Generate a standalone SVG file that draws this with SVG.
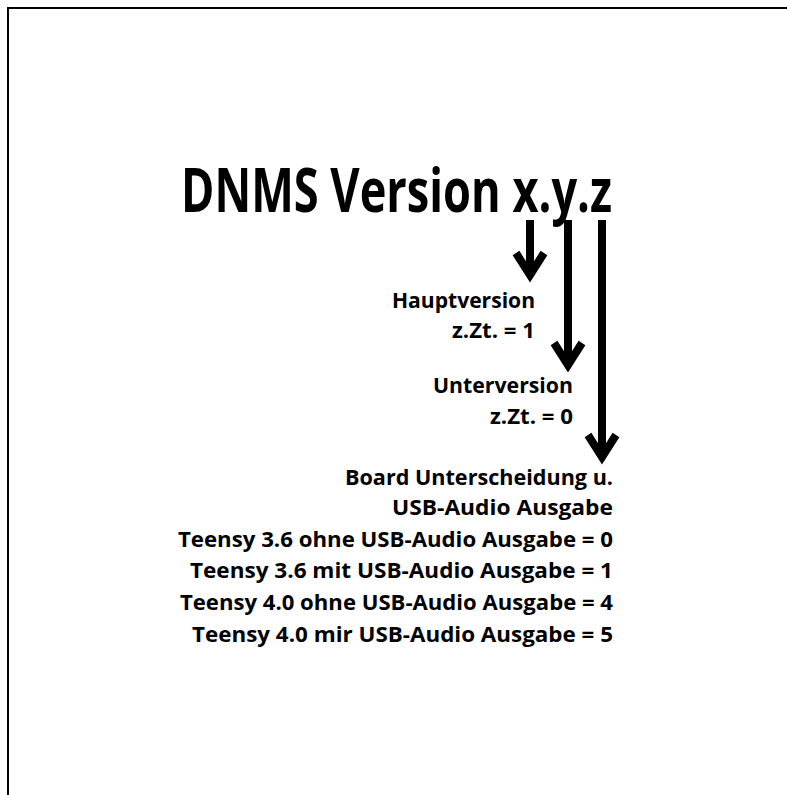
<svg xmlns="http://www.w3.org/2000/svg" width="787" height="795" viewBox="0 0 787 795">
<style>
text{font-family:"Open Sans","Noto Sans","Liberation Sans",sans-serif;font-weight:bold;fill:#000;text-anchor:end}
.t{font-size:60px}
.s{font-size:21px}
.arr{stroke:#000;stroke-width:8;fill:none}
.head{stroke:#000;stroke-width:8;fill:none;stroke-linecap:butt;stroke-linejoin:miter}
</style>
<rect x="0" y="0" width="787" height="795" fill="#fff"/>
<rect x="8" y="8" width="800" height="800" fill="none" stroke="#000" stroke-width="2"/>
<g id="title"><text class="t" x="612" y="212" textLength="431" lengthAdjust="spacingAndGlyphs">DNMS Version x.y.z</text></g>
<g id="connectors">
<line class="arr" x1="530" y1="220" x2="530" y2="276"/>
<polyline class="head" points="516,253 530,275 544,253"/>
<line class="arr" x1="568" y1="220" x2="568" y2="366"/>
<polyline class="head" points="554,343 568,365 582,343"/>
<line class="arr" x1="602" y1="220" x2="602" y2="458"/>
<polyline class="head" points="588,435 602,457 616,435"/>
</g>
<g id="haupt">
<text class="s" x="535" y="308" textLength="143" lengthAdjust="spacingAndGlyphs">Hauptversion</text>
<text class="s" x="535" y="338" textLength="83" lengthAdjust="spacingAndGlyphs">z.Zt. = 1</text>
</g>
<g id="unter">
<text class="s" x="573" y="393" textLength="140" lengthAdjust="spacingAndGlyphs">Unterversion</text>
<text class="s" x="573" y="424" textLength="83" lengthAdjust="spacingAndGlyphs">z.Zt. = 0</text>
</g>
<g id="board">
<text class="s" x="613" y="485" textLength="268" lengthAdjust="spacingAndGlyphs">Board Unterscheidung u.</text>
<text class="s" x="613" y="515" textLength="221" lengthAdjust="spacingAndGlyphs">USB-Audio Ausgabe</text>
<text class="s" x="613" y="547" textLength="435" lengthAdjust="spacingAndGlyphs">Teensy 3.6 ohne USB-Audio Ausgabe = 0</text>
<text class="s" x="613" y="578" textLength="423" lengthAdjust="spacingAndGlyphs">Teensy 3.6 mit USB-Audio Ausgabe = 1</text>
<text class="s" x="613" y="610" textLength="433" lengthAdjust="spacingAndGlyphs">Teensy 4.0 ohne USB-Audio Ausgabe = 4</text>
<text class="s" x="613" y="642" textLength="421" lengthAdjust="spacingAndGlyphs">Teensy 4.0 mir USB-Audio Ausgabe = 5</text>
</g>
</svg>
